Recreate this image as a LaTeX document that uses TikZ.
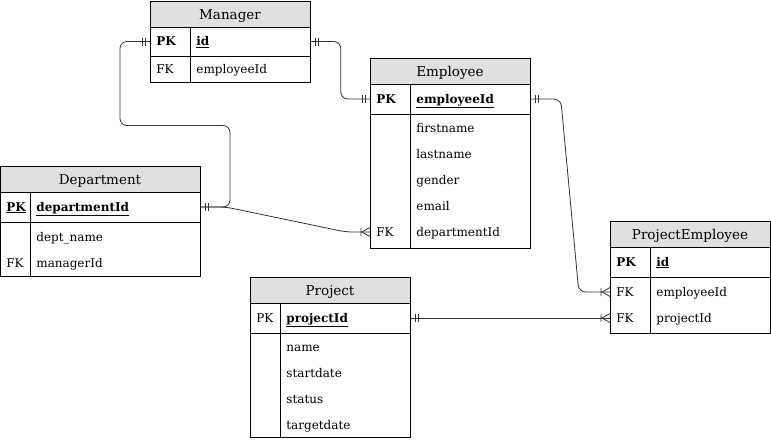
\documentclass[tikz,border=0pt]{standalone}
\usepackage{fontspec}
\setmainfont{DejaVu Serif}
\usetikzlibrary{arrows.meta}

\definecolor{headgray}{HTML}{E0E0E0}
\definecolor{linkgray}{HTML}{333333}

\newcommand{\pkfield}[1]{\textbf{\underline{#1}}}

% ER tips: one-and-only-one, one-or-many
\pgfdeclarearrow{
  name = erone,
  setup code = {
    \pgfarrowssettipend{0pt}
    \pgfarrowssetlineend{0pt}
    \pgfarrowssetbackend{-9pt}
    \pgfarrowssetvisualbackend{-9pt}
    \pgfarrowshullpoint{0pt}{4pt}
    \pgfarrowshullpoint{-9pt}{-4pt}
  },
  drawing code = {
    \pgfpathmoveto{\pgfqpoint{-5pt}{4pt}}
    \pgfpathlineto{\pgfqpoint{-5pt}{-4pt}}
    \pgfpathmoveto{\pgfqpoint{-8pt}{4pt}}
    \pgfpathlineto{\pgfqpoint{-8pt}{-4pt}}
    \pgfusepathqstroke
  }
}
\pgfdeclarearrow{
  name = ermany,
  setup code = {
    \pgfarrowssettipend{0pt}
    \pgfarrowssetlineend{0pt}
    \pgfarrowssetbackend{-10pt}
    \pgfarrowssetvisualbackend{-10pt}
    \pgfarrowshullpoint{0pt}{4.5pt}
    \pgfarrowshullpoint{-10pt}{-4.5pt}
  },
  drawing code = {
    \pgfpathmoveto{\pgfqpoint{-9pt}{4pt}}
    \pgfpathlineto{\pgfqpoint{-9pt}{-4pt}}
    \pgfpathmoveto{\pgfqpoint{0pt}{4.5pt}}
    \pgfpathlineto{\pgfqpoint{-8pt}{0pt}}
    \pgfpathlineto{\pgfqpoint{0pt}{-4.5pt}}
    \pgfusepathqstroke
  }
}

\tikzset{
  tblhead/.style={draw, fill=headgray},
  tbltitle/.style={font=\fontsize{13.5}{16}\selectfont, inner sep=0pt, text height=10.5pt, text depth=0.5pt},
  keycol/.style={anchor=west, inner xsep=6pt, inner ysep=0pt, text width=#1, align=left,
    text height=9.5pt, text depth=1.5pt},
  keycol/.default=28pt,
  fieldcol/.style={anchor=west, inner xsep=6pt, inner ysep=0pt, text width=#1, align=left,
    text height=9.5pt, text depth=1.5pt},
  link/.style={draw=linkgray, rounded corners=7pt},
}

\begin{document}
\begin{tikzpicture}[x=1pt, y=-1pt, line width=0.8pt, font=\fontsize{12}{14}\selectfont]

    \useasboundingbox (0,0) rectangle (771,440);

    % Manager
    \draw[tblhead] (150,1) rectangle (310,27);
    \draw (150,27) rectangle (310,82) (150,56) -- (310,56) (190,27) -- (190,82);
    \node[tbltitle] at (230,14) (MgrT) {Manager};
    \node[keycol] at (150,41.5) (MgrPK) {\textbf{PK}};
    \node[fieldcol=108pt] at (190,41.5) (MgrId) {\pkfield{id}};
    \node[keycol] at (150,69) (MgrFK) {FK};
    \node[fieldcol=108pt] at (190,69) (MgrEmp) {employeeId};

    % Employee
    \draw[tblhead] (370,58) rectangle (530,84);
    \draw (370,84) rectangle (530,248) (370,114) -- (530,114) (410,84) -- (410,248);
    \node[tbltitle] at (450,71) (EmpT) {Employee};
    \node[keycol] at (370,99) (EmpPK) {\textbf{PK}};
    \node[fieldcol=108pt] at (410,99) (EmpId) {\pkfield{employeeId}};
    \foreach \a [count=\i] in {firstname, lastname, gender, email}
        \node[fieldcol=108pt] at (410,102+26*\i) (EmpA\i) {\a};
    \node[keycol] at (370,232) (EmpFK) {FK};
    \node[fieldcol=108pt] at (410,232) (EmpDept) {departmentId};

    % Department
    \draw[tblhead] (0,166) rectangle (200,192);
    \draw (0,192) rectangle (200,276) (0,222) -- (200,222) (30,192) -- (30,276);
    \node[tbltitle] at (100,179) (DeptT) {Department};
    \node[keycol=18pt] at (0,207) (DeptPK) {\pkfield{PK}};
    \node[fieldcol=158pt] at (30,207) (DeptId) {\pkfield{departmentId}};
    \node[fieldcol=158pt] at (30,237) (DeptName) {dept\_name};
    \node[keycol=18pt] at (0,263) (DeptFK) {FK};
    \node[fieldcol=158pt] at (30,263) (DeptMgr) {managerId};

    % Project
    \draw[tblhead] (250,277) rectangle (410,303);
    \draw (250,303) rectangle (410,437) (250,333) -- (410,333) (280,303) -- (280,437);
    \node[tbltitle] at (330,290) (ProjT) {Project};
    \node[keycol=18pt] at (250,318) (ProjPK) {PK};
    \node[fieldcol=118pt] at (280,318) (ProjId) {\pkfield{projectId}};
    \foreach \a [count=\i] in {name, startdate, status, targetdate}
        \node[fieldcol=118pt] at (280,321+26*\i) (ProjA\i) {\a};

    % ProjectEmployee
    \draw[tblhead] (610,221) rectangle (770,247);
    \draw (610,247) rectangle (770,333) (610,277) -- (770,277) (650,247) -- (650,333);
    \node[tbltitle] at (690,234) (PET) {ProjectEmployee};
    \node[keycol] at (610,262) (PEPK) {\textbf{PK}};
    \node[fieldcol=108pt] at (650,262) (PEId) {\pkfield{id}};
    \node[keycol] at (610,292) (PEFK1) {FK};
    \node[fieldcol=108pt] at (650,292) (PEEmp) {employeeId};
    \node[keycol] at (610,318) (PEFK2) {FK};
    \node[fieldcol=108pt] at (650,318) (PEProj) {projectId};

    % Relations
    \draw[link, erone-erone] (MgrPK.west) -- ++(-30,0) -- ++(0,84) -- ++(110,0) |- (DeptId.east);
    \draw[link, erone-erone] (MgrId.east) -- ++(30,0) |- (EmpPK.west);
    \draw[link, erone-ermany] (DeptId.east) -- ++(25,0) -- ++(120,25) -- (EmpFK.west);
    \draw[link, erone-ermany] (EmpId.east) -- ++(30,0) -- ++(18,193) -- (PEFK1.west);
    \draw[link, erone-ermany] (ProjId.east) -- (PEFK2.west);

\end{tikzpicture}
\end{document}
